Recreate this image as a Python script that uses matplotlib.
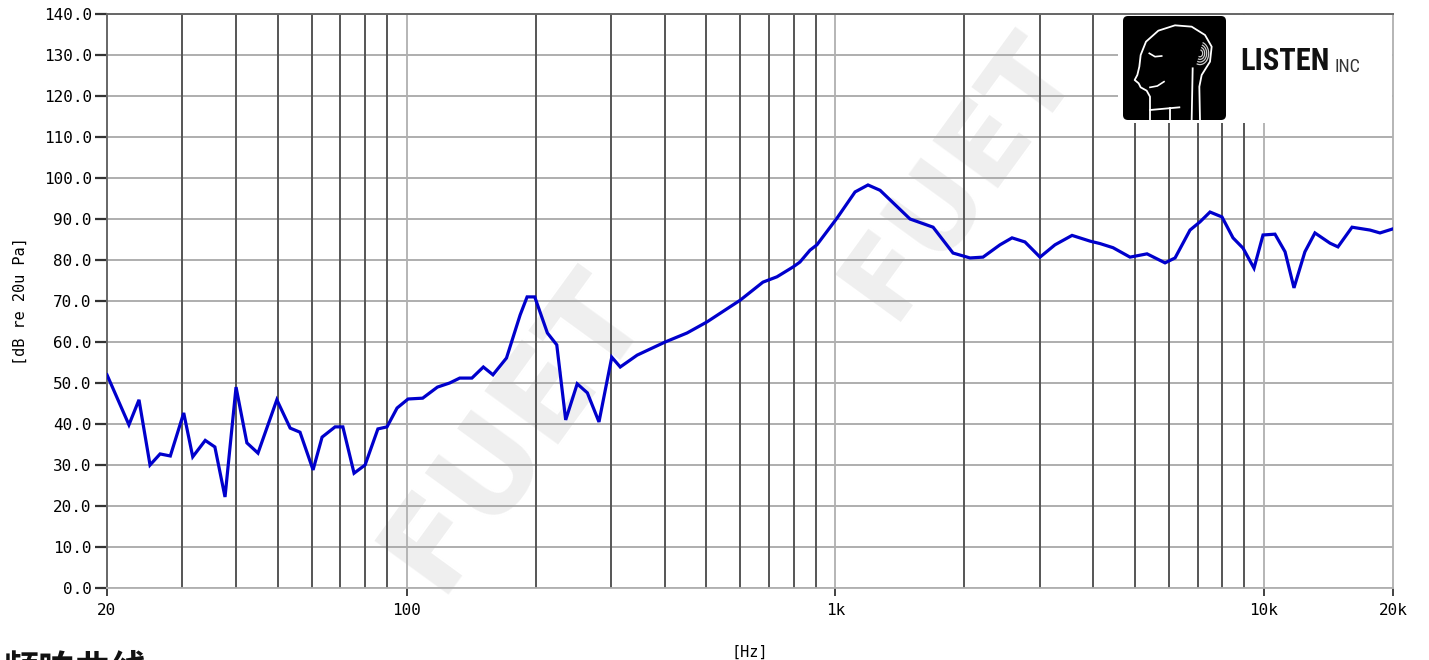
import numpy as np
import matplotlib
matplotlib.use("Agg")
import matplotlib.pyplot as plt
from matplotlib.patches import FancyBboxPatch, Rectangle

# ---- data ----
freq_hz = [20, 22.5, 23.75, 25.2, 26.6, 28.1, 30.2, 31.7, 33.9, 35.7, 37.7, 40.0, 42.4, 45.0,
           49.8, 53.5, 56.4, 60.5, 63.5, 68.1, 71.0, 75.4, 80.0, 85.7, 90.0, 95.0, 100.8, 109,
           118, 126, 133, 142, 151, 159, 171, 184, 191, 199, 213, 224, 235, 250, 264, 281, 301,
           315, 345, 401, 451, 502, 600, 678, 731, 797, 827, 873, 906, 1009, 1112, 1192, 1272,
           1494, 1691, 1882, 2062, 2211, 2422, 2584, 2770, 3003, 3254, 3567, 3930, 4147, 4446,
           4870, 5336, 5878, 6203, 6722, 7092, 7484, 7982, 8468, 8936, 9480, 9950, 10610,
           11200, 11750, 12460, 13150, 14260, 14880, 16050, 17680, 18650, 20000]
spl_db = [52.0, 39.8, 45.9, 30.0, 32.7, 32.2, 42.7, 32.0, 36.0, 34.4, 22.2, 49.0, 35.4, 32.9,
          45.9, 39.0, 38.0, 28.8, 36.8, 39.3, 39.3, 28.0, 30.0, 38.8, 39.3, 43.9, 46.1, 46.3,
          49.0, 50.0, 51.2, 51.2, 53.9, 52.0, 56.1, 66.6, 71.0, 71.0, 62.2, 59.3, 41.0, 49.8,
          47.6, 40.5, 56.3, 53.9, 56.8, 60.0, 62.2, 64.9, 70.2, 74.6, 75.9, 78.3, 79.5, 82.4,
          83.7, 90.2, 96.6, 98.3, 97.0, 90.0, 88.0, 81.7, 80.5, 80.7, 83.7, 85.4, 84.4, 80.7,
          83.7, 86.0, 84.6, 84.0, 83.0, 80.7, 81.5, 79.3, 80.5, 87.3, 89.3, 91.7, 90.5, 85.4,
          82.9, 78.0, 86.1, 86.3, 82.0, 73.2, 82.0, 86.6, 84.1, 83.2, 88.0, 87.3, 86.6, 87.6]

y_ticks = [0, 10, 20, 30, 40, 50, 60, 70, 80, 90, 100, 110, 120, 130, 140]
x_major = [20, 100, 1000, 10000, 20000]
x_major_labels = ["20", "100", "1k", "10k", "20k"]
x_dark_grid = [30, 40, 50, 60, 70, 80, 90, 200, 300, 400, 500, 600, 700, 800, 900,
               2000, 3000, 4000, 5000, 6000, 7000, 8000, 9000]
x_light_grid = [100, 1000, 10000]

W, H = 1429, 660
fig = plt.figure(figsize=(W / 100, H / 100), dpi=100)
fig.patch.set_facecolor("white")
ax = fig.add_axes([107 / W, 1 - 588 / H, (1393 - 107) / W, (588 - 14) / H])
ax.set_xscale("log")
ax.set_xlim(20, 20000)
ax.set_ylim(0, 140)

mono = "DejaVu Sans Mono"

# grid
for yv in y_ticks:
    ax.axhline(yv, color="#a8a8a8", lw=1.3, zorder=0.5)
for xv in x_dark_grid:
    ax.axvline(xv, color="#555555", lw=1.4, zorder=0.6)
for xv in x_light_grid:
    ax.axvline(xv, color="#b0b0b0", lw=1.3, zorder=0.6)

# spines
for s in ["left", "top"]:
    ax.spines[s].set_color("#666666")
    ax.spines[s].set_linewidth(1.4)
for s in ["right", "bottom"]:
    ax.spines[s].set_color("#b0b0b0")
    ax.spines[s].set_linewidth(1.3)

ax.set_yticks(y_ticks)
ax.set_yticklabels([f"{v:.1f}" for v in y_ticks], fontfamily=mono, fontsize=11.5)
ax.tick_params(axis="y", direction="out", length=9, width=1.6, color="#333333", pad=2)
ax.set_xticks(x_major)
ax.set_xticklabels(x_major_labels, fontfamily=mono, fontsize=11.5)
ax.xaxis.set_minor_locator(matplotlib.ticker.NullLocator())
ax.tick_params(axis="x", direction="out", length=6, width=1.3, color="#333333", pad=5)

ax.set_ylabel("[dB re 20u Pa]", fontfamily=mono, fontsize=11, labelpad=6)
ax.yaxis.set_label_coords(-(107 - 28) / (1393 - 107), 0.5)
ax.set_xlabel("[Hz]", fontfamily=mono, fontsize=11, labelpad=10)
ax.xaxis.set_label_coords((750 - 107) / (1393 - 107), -(645 - 588) / (588 - 14))

# watermarks (faint, behind the grid)
for (cx, cy, fs) in [(515, 430, 90), (960, 175, 80)]:
    ax.text(cx / W, 1 - cy / H, "FUET", transform=fig.transFigure, rotation=54,
            fontsize=fs, fontweight="bold", color="#efefef", ha="center", va="center",
            zorder=0.4, clip_on=False)

# curve
ax.plot(freq_hz, spl_db, color="#0000cc", lw=2.3, zorder=3, solid_joinstyle="miter")

# logo area (white cover)
cover = fig.add_axes([1118 / W, 1 - 123 / H, (1392 - 1118) / W, (123 - 15) / H])
cover.set_facecolor("white")
cover.set_xlim(0, 274)
cover.set_ylim(108, 0)
cover.axis("off")
cover.add_patch(Rectangle((0, 0), 274, 108, facecolor="white", edgecolor="none"))
cover.add_patch(FancyBboxPatch((5, 1), 103, 104, boxstyle="round,pad=0,rounding_size=5",
                               facecolor="black", edgecolor="none"))

def zc(pts):
    # convert logo sketch coords (3x zoom of region at 1100,0) to cover coords
    xs = [p[0] / 3 + 1100 - 1118 for p in pts]
    ys = [p[1] / 3 - 15 for p in pts]
    return xs, ys

head = [(150, 360), (150, 290), (140, 272), (122, 262), (116, 250), (104, 240), (112, 225),
        (118, 200), (122, 165), (138, 125), (175, 92), (225, 76), (275, 80), (315, 105),
        (335, 140), (330, 185), (305, 225), (298, 260), (300, 360)]
cover.plot(*zc(head), color="white", lw=1.3)
cover.plot(*zc([(150, 330), (238, 322)]), color="white", lw=1.3)
cover.plot(*zc([(210, 325), (210, 360)]), color="white", lw=1.3)
cover.plot(*zc([(278, 205), (275, 360)]), color="white", lw=1.3)
cover.plot(*zc([(148, 160), (165, 170), (185, 168)]), color="white", lw=1.2)
cover.plot(*zc([(150, 262), (172, 258), (192, 245)]), color="white", lw=1.2)
for r in [8, 14, 20, 26]:
    t = np.linspace(-1.2, 1.9, 30)
    cover.plot(*zc(list(zip(300 + r * np.cos(t), 160 + r * np.sin(t) * 1.3))),
               color="#cccccc", lw=0.9)

cover.text(122, 46, "LISTEN", fontsize=22, fontweight="bold",
           family=["Roboto Condensed", "Roboto", "DejaVu Sans"], ha="left", va="center",
           color="#111111")
cover.text(217, 52, "INC", fontsize=13,
           family=["Roboto Condensed", "Roboto", "DejaVu Sans"], ha="left", va="center",
           color="#333333")

# cut-off caption at bottom left
fig.text(2 / W, 1 - 652 / H, "频响曲线", fontsize=26, fontweight="bold",
         family=["Noto Sans CJK SC", "DejaVu Sans"], ha="left", va="top", color="#111111")

fig.savefig("out.png", dpi=100, facecolor="white")
